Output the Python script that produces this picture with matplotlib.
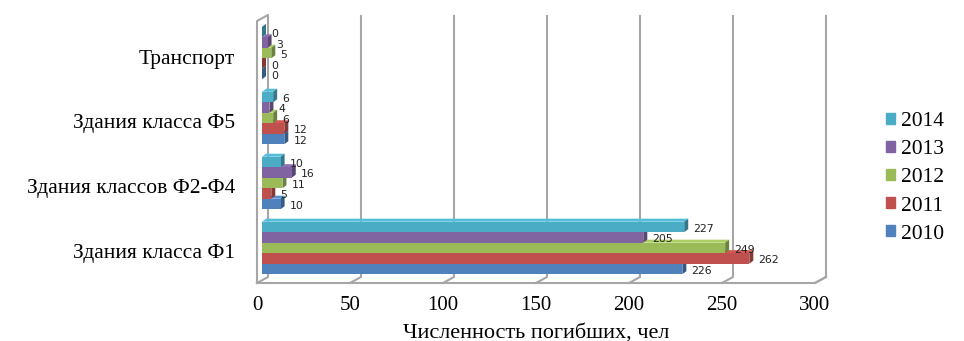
import numpy as np
import matplotlib.pyplot as plt
from matplotlib.patches import Polygon, Patch
import matplotlib.colors as mcolors

# данные
categories = ['Здания класса Ф1', 'Здания классов Ф2-Ф4', 'Здания класса Ф5', 'Транспорт']
years = ['2010', '2011', '2012', '2013', '2014']
v2010 = [226, 10, 12, 0]
v2011 = [262, 5, 12, 0]
v2012 = [249, 11, 6, 5]
v2013 = [205, 16, 4, 3]
v2014 = [227, 10, 6, 0]
series = [v2010, v2011, v2012, v2013, v2014]
colors = ['#4F81BD', '#C0504D', '#9BBB59', '#8064A2', '#4BACC6']
ticks = [0, 50, 100, 150, 200, 250, 300]

W, H = 964, 341
fig = plt.figure(figsize=(W / 100, H / 100), dpi=100)
ax = fig.add_axes([262 / W, (H - 283) / H, 558 / W, (283 - 15) / H])
ax.set_xlim(0, 300)
ax.set_ylim(-0.54, 3.585)
ax.axis('off')

px = 300 / 558          # единиц по x на пиксель
py = 4.125 / 268        # единиц по y на пиксель
gray = '#A6A6A6'
serif = 'Liberation Serif'

# "3D" пол, стены и сетка
yf = -0.54
yb = yf + 6 * py
ytop = 3.585
fx, bx = -5 * px, 6 * px
ax.plot([fx, 300 + fx, 300 + bx], [yf, yf, yb], color=gray, lw=1.5, zorder=1, clip_on=False)
ax.plot([fx, fx, bx, bx, fx], [yf, ytop - 6 * py, ytop, yb, yf], color=gray, lw=1.5,
        zorder=1, clip_on=False)
for t in ticks[1:]:
    ax.plot([t + fx, t + bx, t + bx], [yf, yb, ytop - 1 * py], color=gray, lw=1.5,
            zorder=1, clip_on=False)

# столбцы
y = np.arange(len(categories))
h = 10.5 / 65
sx, sy = 4 * px, 3 * py
for i, (vals, c) in enumerate(zip(series, colors)):
    off = (i - 2) * h
    z = 2 + i * 3
    dark = [v * 0.7 for v in mcolors.to_rgb(c)]
    light = [min(1, v * 1.1) for v in mcolors.to_rgb(c)]
    for yy, v in zip(y + off, vals):
        top = yy + h / 2
        bot = yy - h / 2
        ax.add_patch(Polygon([(0, top), (v, top), (v + sx, top + sy), (sx, top + sy)],
                             closed=True, color=light, zorder=z, lw=0))
        ax.add_patch(Polygon([(v, bot), (v, top), (v + sx, top + sy), (v + sx, bot + sy)],
                             closed=True, color=dark, zorder=z, lw=0))
        ax.text(v + 9 * px, yy - 2 * py, str(v), fontsize=7.8, color='#222222',
                va='center', ha='left', zorder=30)
    ax.barh(y + off, vals, height=h, color=c, zorder=z + 1, linewidth=0)

# подписи категорий
for yy, name in zip(y, categories):
    ax.text(-27 * px, yy - 6 * py, name, family=serif, fontsize=15.5,
            ha='right', va='center', clip_on=False)

# подписи оси x
for t in ticks:
    ax.text(t + fx, yf - 23 * py, str(t), family=serif, fontsize=15,
            ha='center', va='center', clip_on=False)
ax.text(150 + fx, yf - 50 * py, 'Численность погибших, чел', family=serif,
        fontsize=16, ha='center', va='center', clip_on=False)

# легенда
handles = [Patch(color=c, label=yr) for c, yr in zip(colors, years)][::-1]
fig.legend(handles=handles, loc='center left', bbox_to_anchor=(867 / W, (H - 178) / H),
           frameon=False, prop={'family': serif, 'size': 15.5},
           handlelength=0.42, handleheight=0.42, handletextpad=0.25, labelspacing=0.42)

fig.savefig('out.png', dpi=100)
